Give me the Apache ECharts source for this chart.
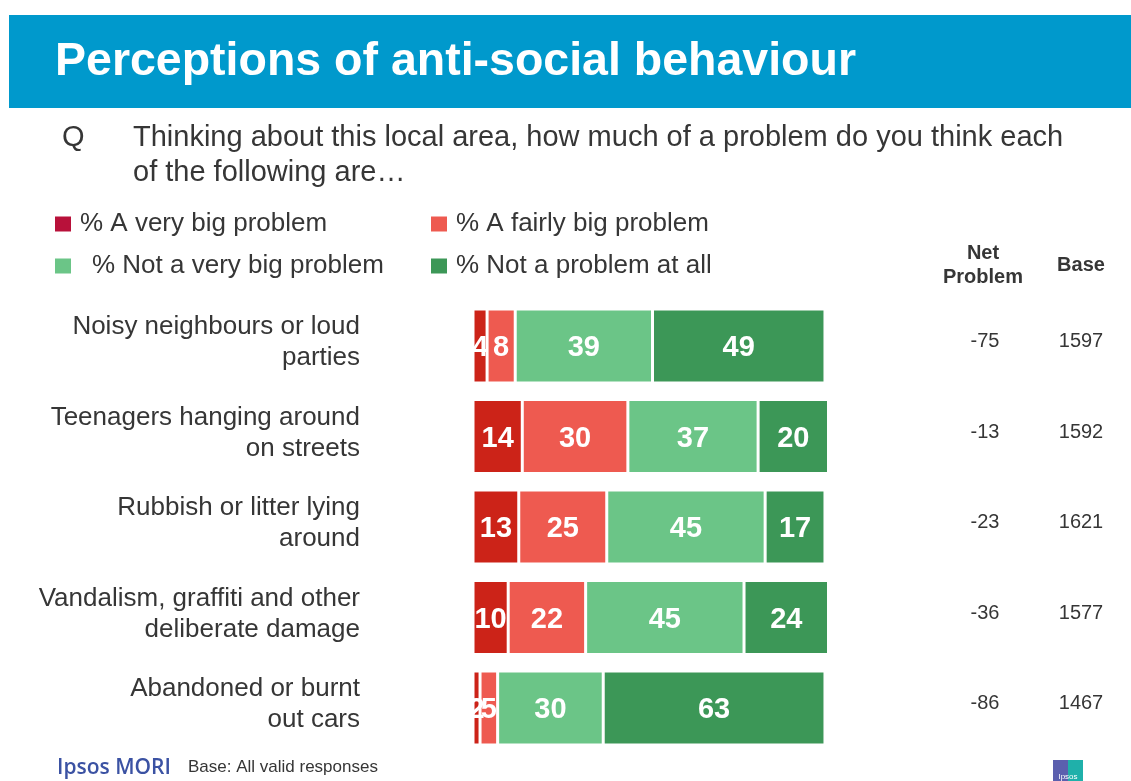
<!DOCTYPE html>
<html>
<head>
<meta charset="utf-8">
<script src="https://cdn.jsdelivr.net/npm/echarts@6/dist/echarts.min.js"></script>
<style>
html,body{margin:0;padding:0;background:#fff;}
#chart{width:1131px;height:781px;}
</style>
</head>
<body>
<div id="chart"></div>
<script>
const categories = [
  'Noisy neighbours or loud\nparties',
  'Teenagers hanging around\non streets',
  'Rubbish or litter lying\naround',
  'Vandalism, graffiti and other\ndeliberate damage',
  'Abandoned or burnt\nout cars'
];
const seriesNames = ['% A very big problem', '% A fairly big problem', '% Not a very big problem', '% Not a problem at all'];
const veryBig = [4, 14, 13, 10, 2];
const fairlyBig = [8, 30, 25, 22, 5];
const notVeryBig = [39, 37, 45, 45, 30];
const notAtAll = [49, 20, 17, 24, 63];
const netProblem = [-75, -13, -23, -36, -86];
const baseN = [1597, 1592, 1621, 1577, 1467];

const barColors = ['#CC2318', '#EE5A50', '#6BC587', '#3C9757'];
const legendColors = ['#B8113A', '#EE5A50', '#6BC587', '#3C9757'];
const values = [veryBig, fairlyBig, notVeryBig, notAtAll];

const chart = echarts.init(document.getElementById('chart'));
const txt = '#363636';
const font = 'Liberation Sans';

const legendPos = [[53, 211], [429, 211], [53, 253], [429, 253]];
const legendTextPad = [3, 3, 15, 3];

function catLabel(v) {
  return v.split('\n').map(l => '{t|' + l + '}').join('\n') + '\n{s| }';
}
function numLabel(v) {
  return '{v|' + v + '}\n{s| }';
}

const option = {
  animation: false,
  textStyle: {fontFamily: font},
  grid: {left: 473, top: 300.75, width: 355.5, height: 452.5, containLabel: false},
  legend: seriesNames.map((n, i) => ({
    data: [{name: n, itemStyle: {color: legendColors[i]}}],
    left: legendPos[i][0], top: legendPos[i][1],
    padding: 0, itemWidth: 18, itemHeight: 17, icon: 'rect',
    selectedMode: false,
    textStyle: {fontSize: 26, color: txt, fontFamily: font, padding: [0, 0, 0, legendTextPad[i]]}
  })),
  xAxis: {type: 'value', min: 0, max: 101, show: false},
  yAxis: [
    {
      type: 'category', data: categories, inverse: true,
      axisLine: {show: false}, axisTick: {show: false}, splitLine: {show: false},
      axisLabel: {margin: 113, align: 'right', color: txt, formatter: catLabel,
        rich: {
          t: {fontSize: 26, lineHeight: 31, color: txt, fontFamily: font, align: 'right'},
          s: {fontSize: 1, lineHeight: 7, height: 7}
        }}
    },
    {
      type: 'category', data: categories, inverse: true, position: 'right',
      axisLine: {show: false}, axisTick: {show: false}, splitLine: {show: false},
      axisLabel: {margin: 156.5, align: 'center', color: txt,
        formatter: (v, i) => numLabel(netProblem[i]),
        rich: {
          v: {fontSize: 20, lineHeight: 24, color: txt, fontFamily: font, align: 'center'},
          s: {fontSize: 1, lineHeight: 9, height: 9}
        }}
    },
    {
      type: 'category', data: categories, inverse: true, position: 'right',
      axisLine: {show: false}, axisTick: {show: false}, splitLine: {show: false},
      axisLabel: {margin: 252.5, align: 'center', color: txt,
        formatter: (v, i) => numLabel(baseN[i]),
        rich: {
          v: {fontSize: 20, lineHeight: 24, color: txt, fontFamily: font, align: 'center'},
          s: {fontSize: 1, lineHeight: 9, height: 9}
        }}
    }
  ],
  series: seriesNames.map((n, i) => ({
    name: n, type: 'bar', stack: 'total', data: values[i],
    barCategoryGap: '18%',
    itemStyle: {color: barColors[i], borderColor: '#ffffff', borderWidth: 1.5},
    label: {show: true, position: 'inside', color: '#ffffff', fontSize: 29, fontWeight: 'bold', fontFamily: font, offset: [0, 2]},
    emphasis: {disabled: true}
  })),
  graphic: [
    {type: 'rect', shape: {x: 9, y: 15, width: 1122, height: 93}, style: {fill: '#0099CC'}},
    {type: 'text', x: 55, y: 62, style: {text: 'Perceptions of anti-social behaviour', fill: '#ffffff', font: 'bold 46.5px "Liberation Sans"', textVerticalAlign: 'middle'}},
    {type: 'text', x: 62, y: 138, style: {text: 'Q', fill: txt, font: '29px "Liberation Sans"', textVerticalAlign: 'middle'}},
    {type: 'text', x: 133, y: 138, style: {text: 'Thinking about this local area, how much of a problem do you think each', fill: txt, font: '29px "Liberation Sans"', textVerticalAlign: 'middle'}},
    {type: 'text', x: 133, y: 173, style: {text: 'of the following are…', fill: txt, font: '29px "Liberation Sans"', textVerticalAlign: 'middle'}},
    {type: 'text', x: 983, y: 265, style: {text: 'Net\nProblem', fill: txt, font: 'bold 20px "Liberation Sans"', textAlign: 'center', textVerticalAlign: 'middle', lineHeight: 24}},
    {type: 'text', x: 1081, y: 265, style: {text: 'Base', fill: txt, font: 'bold 20px "Liberation Sans"', textAlign: 'center', textVerticalAlign: 'middle'}},
    {type: 'text', x: 57, y: 768, style: {text: 'Ipsos MORI', fill: '#3B52A3', font: '600 21px "Open Sans"', textVerticalAlign: 'middle'}},
    {type: 'text', x: 188, y: 767, style: {text: 'Base: All valid responses', fill: txt, font: '17px "Liberation Sans"', textVerticalAlign: 'middle'}},
    {type: 'rect', shape: {x: 1053, y: 760, width: 17, height: 21}, style: {fill: '#5B5FAE'}},
    {type: 'rect', shape: {x: 1068, y: 760, width: 15, height: 21}, style: {fill: '#1FB0AA'}},
    {type: 'text', x: 1068, y: 777, style: {text: 'Ipsos', fill: '#ffffff', font: '8px "Liberation Sans"', textAlign: 'center', textVerticalAlign: 'middle'}}
  ]
};
chart.setOption(option);
</script>
</body>
</html>
